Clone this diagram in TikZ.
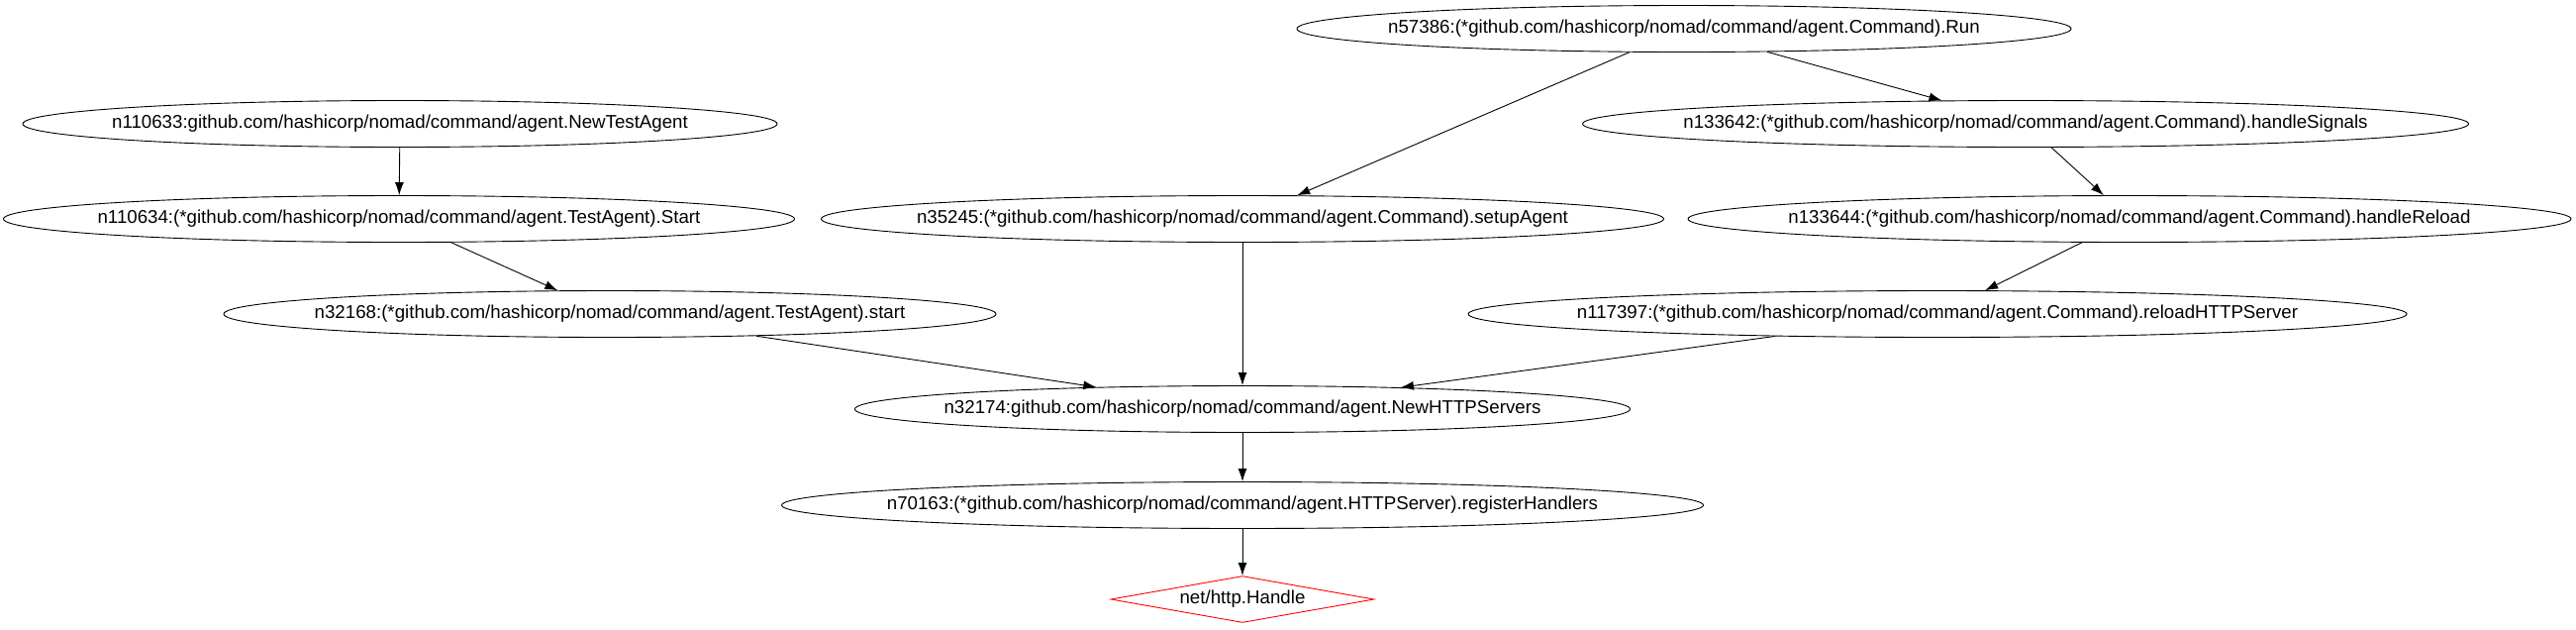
\documentclass[tikz,border=0pt]{standalone}
\usepackage{fontspec}
\setmainfont{Liberation Sans}
\usetikzlibrary{shapes.geometric,arrows.meta}
\begin{document}
\begin{tikzpicture}[x=1pt, y=-1pt, >={Latex[length=13pt,width=9pt]}, line width=0.9pt,
  fn/.style={draw, ellipse, inner xsep=-150pt, inner ysep=0pt, minimum height=47pt,
    font=\fontsize{18.7}{20}\selectfont},
  sink/.style={draw=red, diamond, aspect=5.6, inner sep=0pt,
    minimum width=266pt, minimum height=47pt, font=\fontsize{18.7}{20}\selectfont}]
  \useasboundingbox (0,0) rectangle (2602,635);

  % rows from top
  \node[fn, minimum width=782pt] (Run) at (1701,29) {n57386:(*github.com/hashicorp/nomad/command/agent.Command).Run};
  \node[fn, minimum width=762pt] (NewTA) at (404,125) {n110633:github.com/hashicorp/nomad/command/agent.NewTestAgent};
  \node[fn, minimum width=895pt] (Signals) at (2046,125) {n133642:(*github.com/hashicorp/nomad/command/agent.Command).handleSignals};
  \node[fn, minimum width=799pt] (TAStart) at (403,221) {n110634:(*github.com/hashicorp/nomad/command/agent.TestAgent).Start};
  \node[fn, minimum width=851pt] (Setup) at (1255,221) {n35245:(*github.com/hashicorp/nomad/command/agent.Command).setupAgent};
  \node[fn, minimum width=892pt] (Reload) at (2151,221) {n133644:(*github.com/hashicorp/nomad/command/agent.Command).handleReload};
  \node[fn, minimum width=780pt] (TAstart) at (616,317) {n32168:(*github.com/hashicorp/nomad/command/agent.TestAgent).start};
  \node[fn, minimum width=948pt] (ReloadHTTP) at (1957,317) {n117397:(*github.com/hashicorp/nomad/command/agent.Command).reloadHTTPServer};
  \node[fn, minimum width=783pt] (NewHTTP) at (1255,413) {n32174:github.com/hashicorp/nomad/command/agent.NewHTTPServers};
  \node[fn, minimum width=931pt] (Register) at (1255,510) {n70163:(*github.com/hashicorp/nomad/command/agent.HTTPServer).registerHandlers};
  \node[sink] (Handle) at (1255,605) {net/http.Handle};

  % calls
  \draw[->] (NewTA) -- (TAStart);
  \draw[->] (TAStart) -- (TAstart);
  \draw[->] (TAstart) -- (NewHTTP);
  \draw[->] (Run) -- (Setup);
  \draw[->] (Run) -- (Signals);
  \draw[->] (Signals) -- (Reload);
  \draw[->] (Reload) -- (ReloadHTTP);
  \draw[->] (Setup) -- (NewHTTP);
  \draw[->] (ReloadHTTP) -- (NewHTTP);
  \draw[->] (NewHTTP) -- (Register);
  \draw[->] (Register) -- (Handle);
\end{tikzpicture}
\end{document}
